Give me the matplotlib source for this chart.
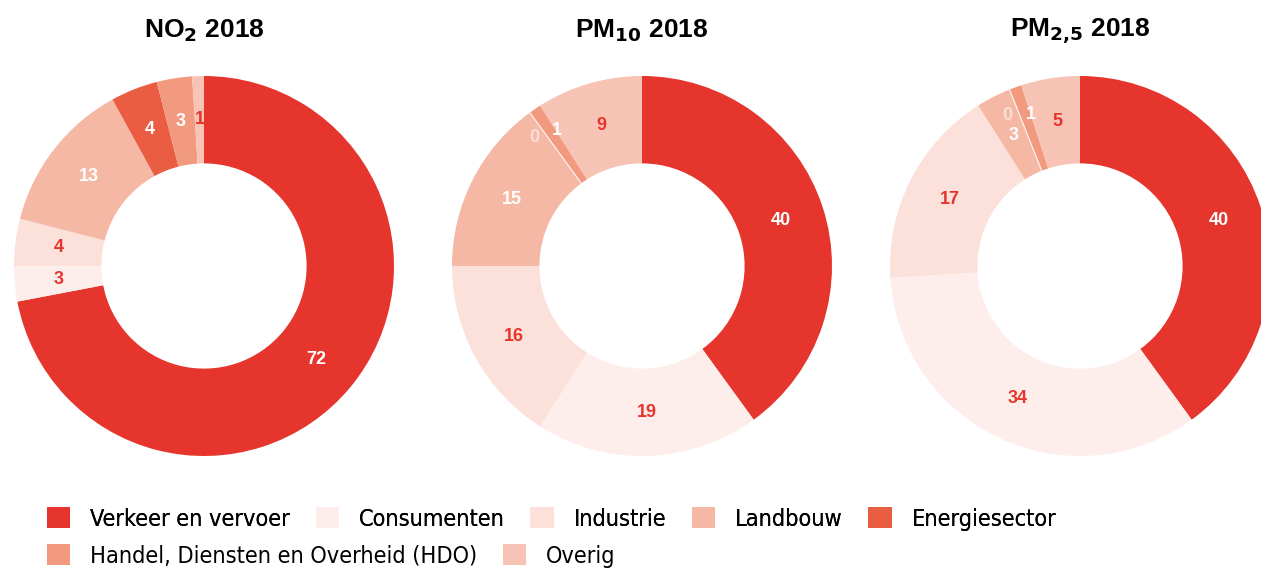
import numpy as np
import matplotlib
matplotlib.use('Agg')
import matplotlib.pyplot as plt
from matplotlib.patches import Patch
from matplotlib import font_manager

categories = ['Verkeer en vervoer', 'Consumenten', 'Industrie', 'Landbouw',
              'Energiesector', 'Handel, Diensten en Overheid (HDO)', 'Overig']
colors = ['#E5352D', '#FDEEEB', '#FBE1D9', '#F5B8A4', '#EA5D42', '#F29A7F', '#F7C3B4']
# label colour per category: white on the darker slices, red on the light ones
label_colors = ['white', '#E5352D', '#E5352D', 'white', 'white', 'white', '#E5352D']

titles = [r'NO$_\mathbf{2}$ 2018', r'PM$_\mathbf{10}$ 2018', r'PM$_\mathbf{2{,}5}$ 2018']
no2 = [72, 3, 4, 13, 4, 3, 1]
pm10 = [40, 19, 16, 15, 0, 1, 9]
pm25 = [40, 34, 17, 3, 0, 1, 5]

W, H = 1261, 569
fig = plt.figure(figsize=(W / 100, H / 100), dpi=100)

centers = [204, 642, 1080]
cy = 266
R = 190
ring = 0.46
title_font = ['Liberation Sans', 'DejaVu Sans']

# a condensed face for the legend if one is installed
names = {f.name for f in font_manager.fontManager.ttflist}
cond = [f for f in font_manager.fontManager.ttflist
        if f.name == 'DejaVu Sans' and f.stretch in ('condensed', 'semi-condensed')]
if 'Liberation Sans Narrow' in names:
    legend_prop = {'family': 'Liberation Sans Narrow', 'size': 19}
elif cond:
    legend_prop = {'family': 'DejaVu Sans', 'stretch': 'condensed', 'size': 16.8}
else:
    legend_prop = {'family': 'Liberation Sans', 'size': 17}

for cx, title, values in zip(centers, titles, [no2, pm10, pm25]):
    ax = fig.add_axes([(cx - R) / W, (H - cy - R) / H, 2 * R / W, 2 * R / H])
    wedges, _ = ax.pie(values, colors=colors, startangle=90, counterclock=False,
                       radius=1, wedgeprops=dict(width=ring, linewidth=0))
    total = float(sum(values))
    cum = 0.0
    for i, (w, v) in enumerate(zip(wedges, values)):
        mid = 90 - 360 * (cum + v / 2) / total
        cum += v
        r = 1 - ring / 2
        alpha = 1.0
        if v == 0:
            # empty sector shows as a thin white line with a faint label
            w.set_edgecolor('white')
            w.set_linewidth(1.5)
            r, mid, alpha = 0.88, mid + 4, 0.55
        elif i > 0 and values[i - 1] == 0:
            r, mid = 0.84, mid - 2
        ax.text(r * np.cos(np.radians(mid)), r * np.sin(np.radians(mid)), str(v),
                ha='center', va='center', fontsize=13, fontweight='bold',
                color=label_colors[i], alpha=alpha, family=title_font)
    ax.set_xlim(-1, 1)
    ax.set_ylim(-1, 1)
    ax.set_aspect('equal')
    ax.axis('off')
    fig.text(cx / W, 1 - 31 / H, title, ha='center', va='center',
             fontsize=19, fontweight='bold', family=title_font)

handles = [Patch(facecolor=c, edgecolor='none') for c in colors]
leg_kw = dict(loc='center left', frameon=False, prop=legend_prop,
              handlelength=1.0, handleheight=1.0, handletextpad=0.85,
              columnspacing=1.1, borderpad=0, borderaxespad=0)
leg1 = fig.legend(handles[:5], categories[:5], ncol=5,
                  bbox_to_anchor=(47 / W, (H - 519) / H), **leg_kw)
fig.add_artist(leg1)
fig.legend(handles[5:], categories[5:], ncol=2,
           bbox_to_anchor=(47 / W, (H - 556) / H), **leg_kw)

fig.savefig('out.png', dpi=100)
